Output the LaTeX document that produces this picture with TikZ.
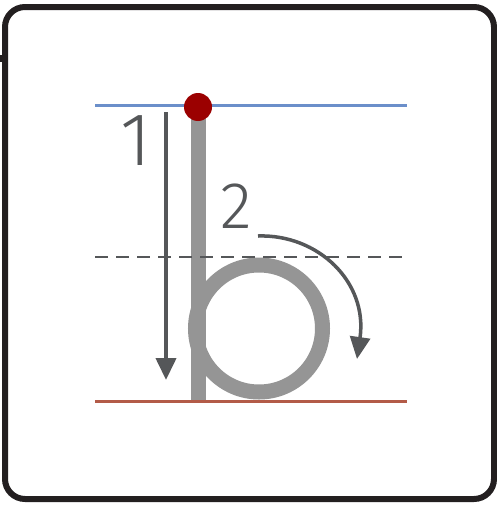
\documentclass[tikz,border=0pt]{standalone}
\usepackage{fontspec}
\setmainfont{Lato}
\newfontfamily\digitfont{Fira Sans Light}
\usetikzlibrary{arrows.meta}
\definecolor{framec}{HTML}{231F20}
\definecolor{bluec}{HTML}{6B8FCA}
\definecolor{redl}{HTML}{B35B48}
\definecolor{dotc}{HTML}{9B0000}
\definecolor{letterc}{HTML}{959595}
\definecolor{arrowc}{HTML}{555759}
\tikzset{
  guide/.style={line width=3pt},
  strokearrow/.style={draw=arrowc, line width=4pt, -{Triangle[length=22pt,width=20pt]}},
  digit/.style={text=arrowc, inner sep=0pt, anchor=base},
  letter/.style={draw=letterc, line width=15pt},
}
\begin{document}
\begin{tikzpicture}[x=1pt,y=-1pt]
\useasboundingbox (0,0) rectangle (497,506);
\fill[white] (0,0) rectangle (497,506);
% frame
\draw[framec, line width=6pt, rounded corners=20pt] (5,7) rectangle (494,499);
\fill[framec] (0,55) rectangle (3,62);
% letter b
\draw[letter] (198,107) -- (198,400);
\draw[letter] (259,328.5) circle (63.5);
% guide lines
\draw[guide, bluec] (95,105) -- (407,105);
\draw[guide, arrowc, line width=2.5pt, dash pattern=on 13pt off 8pt] (95,257) -- (407,257);
\draw[guide, redl] (95,401) -- (407,401);
% stroke arrows
\coordinate (a1s) at (166,112);
\coordinate (a1e) at (166,380);
\draw[strokearrow] (a1s) -- (a1e);
\coordinate (a2s) at (258,236);
\coordinate (a2e) at (357,359);
\draw[strokearrow, line width=3.5pt] (a2s) .. controls (318,234) and (368,282) .. (a2e);
% numbers
\node[digit, font=\digitfont\fontsize{75}{75}\selectfont] (n1) at (136,165) {1};
\node[digit, font=\digitfont\fontsize{66}{66}\selectfont] (n2) at (236,228) {2};
% start dot
\fill[dotc] (198,107) circle (14);
\end{tikzpicture}
\end{document}
